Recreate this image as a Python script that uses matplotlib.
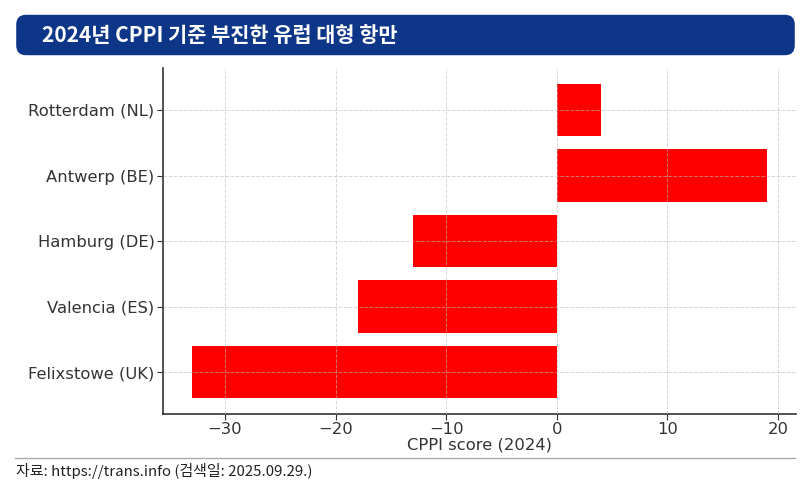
import matplotlib.pyplot as plt
from matplotlib.patches import FancyBboxPatch
from matplotlib.lines import Line2D

plt.rcParams['font.family'] = ['DejaVu Sans']

ports = ["Rotterdam (NL)", "Antwerp (BE)", "Hamburg (DE)", "Valencia (ES)", "Felixstowe (UK)"]
scores = [4, 19, -13, -18, -33]
title = "2024년 CPPI 기준 부진한 유럽 대형 항만"
source = "자료: https://trans.info (검색일: 2025.09.29.)"

fig = plt.figure(figsize=(8.11, 4.93), dpi=100)

# title banner
banner = FancyBboxPatch((0.020, 0.888), 0.960, 0.082,
                        boxstyle="round,pad=0,rounding_size=0.012",
                        transform=fig.transFigure, facecolor="#0d3688",
                        edgecolor="none", mutation_aspect=811 / 493)
fig.patches.append(banner)
fig.text(0.052, 0.929, title, color="white", fontsize=15, fontweight="bold",
         family=["Noto Sans CJK KR", "DejaVu Sans"], va="center", ha="left")

ax = fig.add_axes([0.201, 0.160, 0.780, 0.702])
y = list(range(len(ports)))[::-1]
ax.barh(y, scores, height=0.8, color="#ff0000", zorder=1)
ax.set_yticks(y)
ax.set_yticklabels(ports)
ax.set_xticks([-30, -20, -10, 0, 10, 20])
ax.set_xlabel("CPPI score (2024)", fontsize=11.8, color="#333333", labelpad=0)
ax.tick_params(axis="both", labelsize=11.8, colors="#333333", length=4, pad=2)
ax.grid(True, linestyle="--", color="#bbbbbb", linewidth=0.7, alpha=0.6, zorder=3)
ax.set_axisbelow(False)
for s in ["top", "right"]:
    ax.spines[s].set_visible(False)
for s in ["left", "bottom"]:
    ax.spines[s].set_color("#333333")
    ax.spines[s].set_linewidth(1.2)

# bottom separator and source
fig.lines.append(Line2D([0.018, 0.98], [0.071, 0.071], transform=fig.transFigure,
                        color="#aaaaaa", linewidth=1))
fig.text(0.020, 0.045, source, fontsize=10.8, color="#222222",
         family=["Noto Sans CJK KR", "DejaVu Sans"], va="center", ha="left")

fig.savefig("out.png", dpi=100)
